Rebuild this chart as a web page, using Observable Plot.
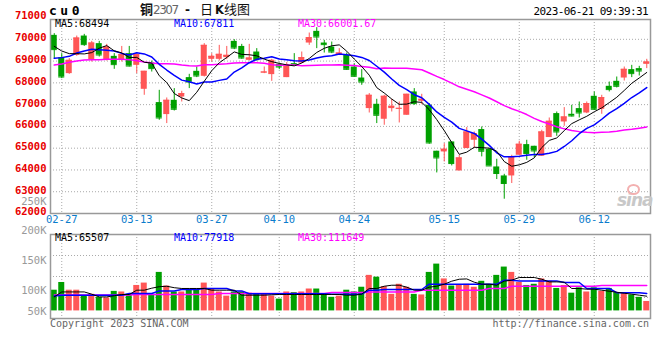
<!DOCTYPE html>
<html><head><meta charset="utf-8">
<script src="https://cdn.jsdelivr.net/npm/d3@7"></script>
<script src="https://cdn.jsdelivr.net/npm/@observablehq/plot@0.6"></script>
<style>
body{margin:0;background:#fff;}
#wrap{position:relative;width:660px;height:360px;overflow:hidden;background:#fff;font-family:"DejaVu Sans Mono",monospace;}
#wrap svg{position:absolute;left:0;}
.t{position:absolute;white-space:nowrap;line-height:1;font-size:10px;}
</style></head><body><div id="wrap"></div>
<script>
const dates = ["02-24","02-27","02-28","03-01","03-02","03-03","03-06","03-07","03-08","03-09","03-10",
"03-13","03-14","03-15","03-16","03-17","03-20","03-21","03-22","03-23","03-24",
"03-27","03-28","03-29","03-30","03-31","04-03","04-04","04-06","04-07",
"04-10","04-11","04-12","04-13","04-14","04-17","04-18","04-19","04-20","04-21",
"04-24","04-25","04-26","04-27","04-28","05-04","05-05","05-08","05-09","05-10","05-11","05-12",
"05-15","05-16","05-17","05-18","05-19","05-22","05-23","05-24","05-25","05-26",
"05-29","05-30","05-31","06-01","06-02","06-05","06-06","06-07","06-08","06-09",
"06-12","06-13","06-14","06-15","06-16","06-19","06-20","06-21"];
const open  = [70182,69159,68424,69264,70150,69067,69801,69067,69218,69067,69342,68805,67704,68911,67094,66543,67199,67351,68241,68530,
68301,69081,69081,69159,69906,69673,69035,69416,68452,68379,68851,68241,68883,68911,69829,70366,69829,69645,69296,69264,
68728,68222,66818,67016,66328,66818,66800,66511,67582,67153,66970,64860,64828,65286,63955,64983,65364,65855,64951,64138,
63725,63725,64675,65164,65088,64629,65488,66589,66204,66557,66818,66617,67383,66786,67842,68071,68222,68608,68654,68851];
const high  = [70260,69342,69113,70150,70228,69906,69906,69768,69342,69673,69673,69342,68530,69003,67658,67306,67736,67612,68392,68728,
69801,69342,69723,69673,69985,69768,69768,69572,68728,69081,68911,68929,69342,69416,70288,70535,69953,69874,69572,69370,
68883,68608,67507,67245,67429,67245,67121,67475,67736,67475,67048,64860,65208,65286,64675,65947,65745,65974,64983,64491,
63800,64675,65318,65364,65088,65823,66387,66662,66864,66970,67121,67121,67582,67429,68039,68269,68728,68805,68759,69081];
const low   = [69113,68195,68392,69220,69675,68957,69186,69003,68622,68957,68728,68424,67429,68498,66282,66130,66708,67121,67736,68241,
68269,68957,69003,69067,69526,69081,69003,69003,68424,68071,68609,68241,68805,68883,69723,69572,69370,69342,69264,68576,
68269,67888,66616,66130,66052,66663,66158,66511,66970,67000,65180,63863,64368,64184,63955,64983,64983,64600,64184,63560,
62656,63377,64675,64446,64570,64629,65488,65547,66006,66433,66387,66585,66740,66557,67582,67766,68085,68241,68315,68654];
const close = [69526,68269,69035,70058,69756,69829,69280,69645,68837,69296,68773,69296,68530,68654,66387,67199,66786,67507,68039,68315,
69723,69218,69311,69264,69599,69140,69140,69067,68498,69035,68728,68805,68837,69159,70076,70106,69756,69416,69370,68622,
68301,68039,67429,66511,67383,66924,66830,67475,67048,67245,65240,64552,64951,64294,64552,65745,65671,64860,64184,63836,
63377,64597,65180,64753,64873,65745,66236,65745,66433,66479,66617,67048,66786,67323,67690,67842,68622,68424,68544,68957];
const volume = [100000,113000,100000,100000,90000,93000,88000,87000,98000,97000,93000,108000,112000,93000,130000,107000,97000,97000,101000,101000,
112000,102000,97000,90000,97000,97000,95000,93000,93000,90000,85000,97000,96000,97000,102000,102000,93000,88000,90000,100000,
97000,105000,125000,122000,106000,93000,110000,105000,93000,92000,130000,144000,119000,107000,108000,110000,105000,115000,110000,125000,
139000,130000,113000,108000,110000,119000,115000,103000,108000,95000,104000,97000,104000,98000,103000,96000,96000,92000,88000,81000];
const ma5Early  = [69677,69462,69342,69342];
const ma10Early = [69127,69159,69218,69370,69462,69540,69526,69494,69462];
const ma30Early = [68815,68865,68943,69003,69050,69067,69067,69081,69081,69081,69067,69020,68957,68911,68883,68883,68865,68815,68790,68773,
68834,68834,68851,68874,68911,68929,68929,68920,68897];
// volume moving averages (on the panel's own axis)
const volMa5 = [88700,97100,97100,97100,97100,93300,88700,88700,90700,92800,
92800,100000,100000,103400,105900,106700,104200,102900,102900,102900,
102900,100000,100000,100000,100000,91600,91600,91600,91600,92200,
92800,92800,92800,92800,92800,92800,92800,92800,92800,91600,
91600,93300,102900,102900,106700,108400,108400,105100,100000,100000,
105100,106700,110100,115200,118500,119000,113500,110100,110100,108400,
115200,116900,121400,121400,121400,118500,114000,114000,113500,102900,
102900,101700,101700,100000,98300,96600,94900,93300,91600,89900];
const volMa10 = [90400,91600,91600,91600,91600,91600,91600,91600,91600,91600,
94400,94400,94400,94400,98800,98800,98800,101200,101200,101200,
102900,102900,102900,102900,98800,98800,94100,94100,94100,94100,
94100,94100,94100,94100,94100,94100,94100,93300,93300,93300,
93300,93300,100000,100000,101200,101200,101200,101200,101200,101200,
110100,110100,110100,110100,110100,110100,110100,110100,110100,110100,
116900,116900,115700,115700,115700,115700,115700,115700,113000,113000,
113000,102900,102900,102900,102900,95800,95800,95800,95800,94400];
const volMa30 = [92100,92100,92100,92100,92100,92100,92100,92100,92100,92100,
92100,92800,92800,92800,92800,92800,92800,92800,92800,92800,
92800,92800,94400,94400,94400,94400,94400,94400,94400,94400,
94400,94400,94400,94400,94400,94400,94400,96100,96100,96100,
96100,96100,97100,97100,97100,97100,97100,97100,97100,100000,
100000,100000,100000,100000,100000,100000,100000,100000,102900,102900,
102900,106700,106700,106700,106700,106700,106700,106700,106700,106700,
106700,106700,106700,107900,107900,107900,107900,107900,107900,107900];
const tickDates = ["02-27","03-13","03-27","04-10","04-24","05-15","05-29","06-12"];
const priceTicks = [62000,63000,64000,65000,66000,67000,68000,69000,70000,71000];
const volTicks = [100000,150000,200000,250000];
const volLowTick = [50000];
const priceLegend = ["MA5:68494","MA10:67811","MA30:66001.67"];
const volLegend = ["MA5:65507","MA10:77918","MA30:111649"];
const titleParts = ["铜","2307","-","日","K","线图"];
const symbol = "cu0";
const stamp = "2023-06-21 09:39:31";
const copyright = "Copyright 2023 SINA.COM";
const url = "http://finance.sina.com.cn";

const RED = "#ff5656", GREEN = "#00a000";
const volBase = 65100;

function ma(vals, n, early) {
  return vals.map((_, i) => i >= n - 1 ? d3.mean(vals.slice(i - n + 1, i + 1)) : early[i]);
}
const rows = dates.map((d, i) => ({i, date: d, open: open[i], high: high[i], low: low[i], close: close[i], vol: volume[i],
  color: close[i] >= open[i] ? RED : GREEN}));
const m5 = ma(close, 5, ma5Early), m10 = ma(close, 10, ma10Early), m30 = ma(close, 30, ma30Early);
const lineRows = rows.map((r, i) => ({i, m5: m5[i], m10: m10[i], m30: m30[i], v5: volMa5[i], v10: volMa10[i], v30: volMa30[i]}));
const tickIdx = tickDates.map(d => dates.indexOf(d));
const xDomain = [-0.5, dates.length - 0.5];
const grid = {stroke: "#aaa", strokeDasharray: "1,2", strokeWidth: 1};
const mono = "DejaVu Sans Mono";

const pricePlot = Plot.plot({
  width: 660, height: 230,
  marginLeft: 50, marginRight: 10, marginTop: 19, marginBottom: 17,
  style: {background: "none", overflow: "visible"},
  x: {domain: xDomain, axis: null},
  y: {domain: [62000, 70910], axis: null},
  marks: [
    Plot.ruleY(priceTicks.filter(t => t > 62000 && t < 70910), grid),
    Plot.ruleX(tickIdx, grid),
    Plot.ruleX(rows, {x: "i", y1: "low", y2: "high", stroke: "color", strokeWidth: 1}),
    Plot.rect(rows, {x1: d => d.i - 0.4, x2: d => d.i + 0.4, y1: "open", y2: "close", fill: "color"}),
    Plot.ruleY(rows, {y: "close", x1: d => d.i - 0.4, x2: d => d.i + 0.4, stroke: "color"}),
    Plot.line(lineRows, {x: "i", y: "m30", stroke: "#ff00ff", strokeWidth: 1.5}),
    Plot.line(lineRows, {x: "i", y: "m10", stroke: "#0000ff", strokeWidth: 1.5}),
    Plot.line(lineRows, {x: "i", y: "m5", stroke: "#000", strokeWidth: 1}),
    Plot.frame({stroke: "#999", strokeWidth: 1.5}),
    Plot.text(priceTicks, {y: d => d, text: d => String(d), frameAnchor: "left", dx: -4, dy: -1.5, textAnchor: "end",
      fill: "#e80000", fontFamily: mono, fontSize: 10.5, fontWeight: "bold"}),
    Plot.text(tickDates, {x: d => dates.indexOf(d), text: d => d, frameAnchor: "bottom", dy: 9, fill: "#0a7ccc",
      fontFamily: mono, fontSize: 10.5})
  ]
});
pricePlot.style.top = "0px";

const volDomain = [52300, 193900];
const volGrid = d3.range(1, 4).map(k => volDomain[0] + k * (volDomain[1] - volDomain[0]) / 4);
const volPlot = Plot.plot({
  width: 660, height: 135,
  marginLeft: 50, marginRight: 10, marginTop: 39, marginBottom: 12,
  style: {background: "none", overflow: "visible"},
  x: {domain: xDomain, axis: null},
  y: {domain: volDomain, axis: null},
  marks: [
    Plot.ruleY(volGrid, grid),
    Plot.ruleX(tickIdx, grid),
    Plot.rect(rows, {x1: d => d.i - 0.4, x2: d => d.i + 0.4, y1: volBase, y2: "vol", fill: "color"}),
    Plot.line(lineRows, {x: "i", y: "v30", stroke: "#ff00ff", strokeWidth: 1.5}),
    Plot.line(lineRows, {x: "i", y: "v10", stroke: "#0000ff", strokeWidth: 1.5}),
    Plot.line(lineRows, {x: "i", y: "v5", stroke: "#000", strokeWidth: 1}),
    Plot.frame({stroke: "#999", strokeWidth: 1.5}),
    Plot.text(volTicks, {y: d => d, text: d => (d / 1000) + "K", frameAnchor: "left", dx: -4, textAnchor: "end",
      fill: "#999", fontFamily: mono, fontSize: 10.5}),
    Plot.text(volLowTick, {y: d => d, text: d => (d / 1000) + "K", frameAnchor: "left", dx: -4, dy: -8.5, textAnchor: "end",
      fill: "#999", fontFamily: mono, fontSize: 10.5})
  ]
});
volPlot.style.top = "195px";

const wrap = document.getElementById("wrap");
wrap.appendChild(volPlot);
wrap.appendChild(pricePlot);

function addText(txt, css) {
  const el = document.createElement("div");
  el.className = "t";
  el.textContent = txt;
  Object.assign(el.style, css);
  wrap.appendChild(el);
  return el;
}
const cjk = "'Noto Sans CJK SC'";
const titleSpec = [
  {left: 140, font: cjk, size: 13, weight: "bold", color: "#111", ls: 0},
  {left: 153, font: "'DejaVu Sans'", size: 12, weight: "normal", color: "#666", ls: -1.5},
  {left: 185, font: "'DejaVu Sans'", size: 12, weight: "bold", color: "#111", ls: 0},
  {left: 200, font: cjk, size: 13, weight: "normal", color: "#111", ls: 0},
  {left: 215, font: "'DejaVu Sans'", size: 11.5, weight: "bold", color: "#111", ls: 0},
  {left: 224, font: cjk, size: 13, weight: "normal", color: "#111", ls: 0}
];
titleParts.forEach((s, k) => {
  const sp = titleSpec[k];
  addText(s, {left: sp.left + "px", top: (sp.font === cjk ? 2 : 4) + "px", fontSize: sp.size + "px", fontFamily: sp.font,
    fontWeight: sp.weight, color: sp.color, lineHeight: "13px", letterSpacing: sp.ls + "px"});
});
addText(symbol, {left: "49px", top: "5px", fontSize: "13px", fontWeight: "bold", letterSpacing: "3.5px", color: "#000", lineHeight: "12px"});
addText(stamp, {right: "12px", top: "6px", fontSize: "11px", letterSpacing: "-0.6px", color: "#000"});
const legColors = ["#000", "#0000ff", "#ff00ff"];
const legX = [55, 174, 298];
priceLegend.forEach((s, k) => addText(s, {left: legX[k] + "px", top: "19px", color: legColors[k]}));
volLegend.forEach((s, k) => addText(s, {left: legX[k] + "px", top: "233px", color: legColors[k]}));
addText(copyright, {left: "50px", top: "319px", color: "#666"});
addText(url, {right: "11px", top: "319px", color: "#666"});
addText("sina", {left: "617px", top: "192px", fontSize: "17px", fontWeight: "bold", fontStyle: "italic",
  fontFamily: "'DejaVu Sans'", color: "#c8c8c8", letterSpacing: "-1px"});
const eye = document.createElement("div");
Object.assign(eye.style, {position: "absolute", left: "627px", top: "184px", width: "9px", height: "7px",
  border: "2px solid #f3b0b0", borderRadius: "50%"});
wrap.appendChild(eye);
</script></body></html>
